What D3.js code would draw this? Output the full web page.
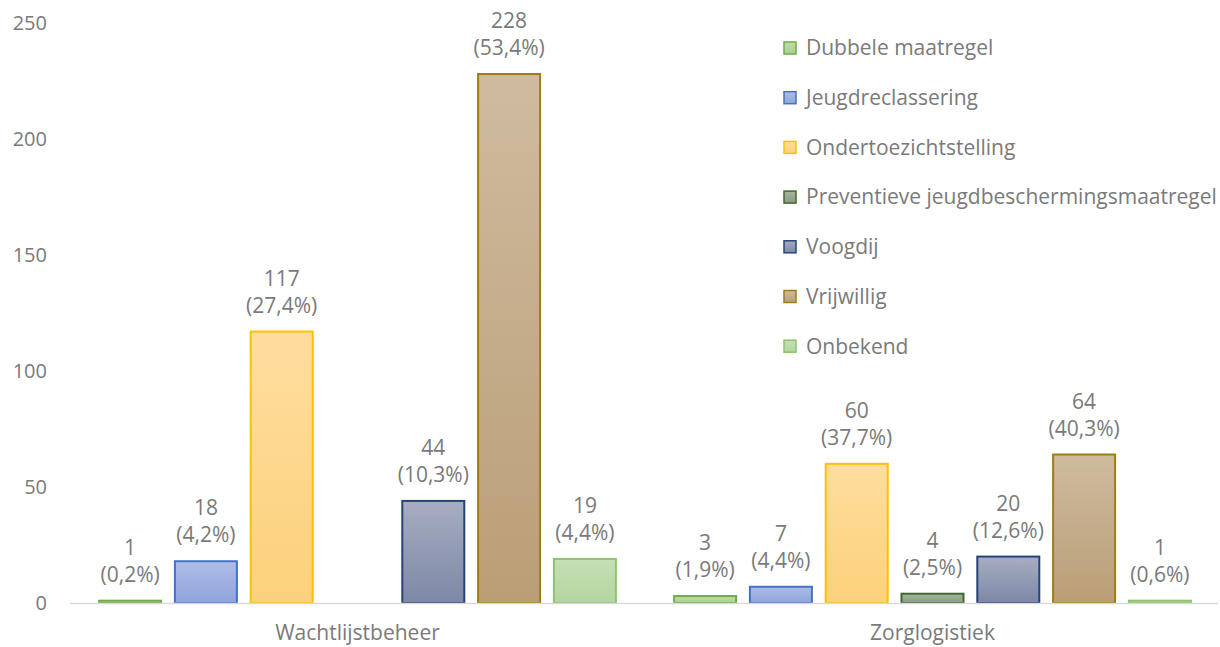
<!DOCTYPE html>
<html>
<head>
<meta charset="utf-8">
<script src="https://cdn.jsdelivr.net/npm/d3@7"></script>
<style>
  body { margin: 0; background: #fff; }
  text { font-family: "Open Sans", "Noto Sans", sans-serif; fill: #7a7a7a; }
</style>
</head>
<body>
<div id="chart"></div>
<script>
// Data
var categories = ["Wachtlijstbeheer", "Zorglogistiek"];
var series = ["Dubbele maatregel", "Jeugdreclassering", "Ondertoezichtstelling",
              "Preventieve jeugdbeschermingsmaatregel", "Voogdij", "Vrijwillig", "Onbekend"];
var wachtlijstValues = [1, 18, 117, null, 44, 228, 19];
var wachtlijstPct = ["0,2%", "4,2%", "27,4%", null, "10,3%", "53,4%", "4,4%"];
var zorgValues = [3, 7, 60, 4, 20, 64, 1];
var zorgPct = ["1,9%", "4,4%", "37,7%", "2,5%", "12,6%", "40,3%", "0,6%"];
var yTicks = [0, 50, 100, 150, 200, 250];

// Colours per series: gradient top, gradient bottom, border
var colours = [
  {top: "#bcdcaa", bottom: "#a9d18e", stroke: "#70ad47"},
  {top: "#aebde6", bottom: "#8ea4dc", stroke: "#4472c4"},
  {top: "#fedd9e", bottom: "#fdd17b", stroke: "#ffc000"},
  {top: "#a6b4a0", bottom: "#8a9d83", stroke: "#43682b"},
  {top: "#a7adc1", bottom: "#7d88a6", stroke: "#264478"},
  {top: "#cfbb9f", bottom: "#ba9e76", stroke: "#9e7e10"},
  {top: "#c5e0b5", bottom: "#b3d59e", stroke: "#8fc36f"}
];

var W = 1220, H = 647;
var left = 70, right = 1220, baseline = 603, topY = 23;
var fontSize = "21px";

var svg = d3.select("#chart").append("svg")
    .attr("width", W)
    .attr("height", H);

var defs = svg.append("defs");
colours.forEach(function(c, i) {
  var lg = defs.append("linearGradient")
      .attr("id", "grad" + i)
      .attr("x1", 0).attr("y1", 0).attr("x2", 0).attr("y2", 1);
  lg.append("stop").attr("offset", "0%").attr("stop-color", c.top);
  lg.append("stop").attr("offset", "100%").attr("stop-color", c.bottom);
});

var x0 = d3.scaleBand()
    .domain(categories)
    .range([left, right]);

var x1 = d3.scaleBand()
    .domain(series)
    .range([0, x0.bandwidth()])
    .paddingInner(0.182)
    .paddingOuter(0.384);

var y = d3.scaleLinear()
    .domain([0, 250])
    .range([baseline, topY]);

// y tick labels (no axis line)
svg.append("g").selectAll("text")
  .data(yTicks)
  .enter().append("text")
    .attr("x", 47)
    .attr("y", function(d) { return y(d); })
    .attr("dy", "0.35em")
    .attr("text-anchor", "end")
    .style("font-size", "20px")
    .text(function(d) { return d; });

// build rows
var rows = [];
categories.forEach(function(cat, ci) {
  var vals = ci === 0 ? wachtlijstValues : zorgValues;
  var pcts = ci === 0 ? wachtlijstPct : zorgPct;
  series.forEach(function(s, si) {
    if (vals[si] == null) return;
    rows.push({cat: cat, series: s, idx: si, value: vals[si], pct: pcts[si]});
  });
});

// bars
svg.append("g").selectAll("rect")
  .data(rows)
  .enter().append("rect")
    .attr("x", function(d) { return x0(d.cat) + x1(d.series); })
    .attr("y", function(d) { return y(d.value); })
    .attr("width", x1.bandwidth())
    .attr("height", function(d) { return baseline - y(d.value); })
    .attr("fill", function(d) { return "url(#grad" + d.idx + ")"; })
    .attr("stroke", function(d) { return colours[d.idx].stroke; })
    .attr("stroke-width", 2);

// x axis line
svg.append("line")
    .attr("x1", left).attr("x2", right - 2)
    .attr("y1", baseline + 0.5).attr("y2", baseline + 0.5)
    .attr("stroke", "#d9d9d9")
    .attr("stroke-width", 1.5);

// data labels
var labels = svg.append("g").selectAll("text")
  .data(rows)
  .enter().append("text")
    .attr("text-anchor", "middle")
    .style("font-size", fontSize);

labels.append("tspan")
    .attr("x", function(d) { return x0(d.cat) + x1(d.series) + x1.bandwidth() / 2; })
    .attr("y", function(d) { return y(d.value) - 46; })
    .text(function(d) { return d.value; });
labels.append("tspan")
    .attr("x", function(d) { return x0(d.cat) + x1(d.series) + x1.bandwidth() / 2; })
    .attr("y", function(d) { return y(d.value) - 19; })
    .text(function(d) { return "(" + d.pct + ")"; });

// category labels
svg.append("g").selectAll("text")
  .data(categories)
  .enter().append("text")
    .attr("x", function(d) { return x0(d) + x0.bandwidth() / 2; })
    .attr("y", 640)
    .attr("text-anchor", "middle")
    .style("font-size", fontSize)
    .text(function(d) { return d; });

// legend
var legend = svg.append("g").selectAll("g")
  .data(series)
  .enter().append("g")
    .attr("transform", function(d, i) { return "translate(783," + (48 + i * 49.7) + ")"; });

legend.append("rect")
    .attr("x", 1).attr("y", -6)
    .attr("width", 12).attr("height", 12)
    .attr("fill", function(d, i) { return "url(#grad" + i + ")"; })
    .attr("stroke", function(d, i) { return colours[i].stroke; })
    .attr("stroke-width", 1.5);

legend.append("text")
    .attr("x", 23)
    .attr("y", 0)
    .attr("dy", "0.35em")
    .style("font-size", fontSize)
    .text(function(d) { return d; });
</script>
</body>
</html>
